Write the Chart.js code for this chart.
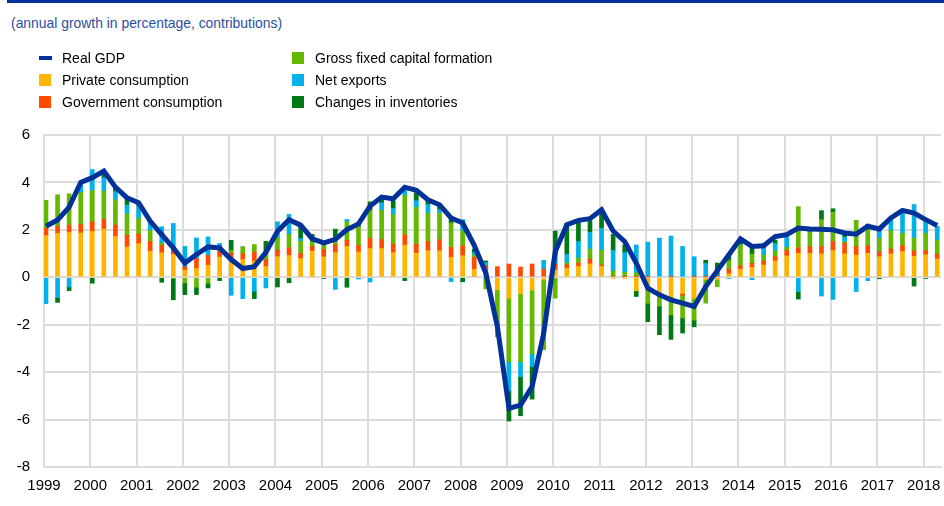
<!DOCTYPE html>
<html>
<head>
<meta charset="utf-8">
<script src="https://cdn.jsdelivr.net/npm/chart.js@4.4.1/dist/chart.umd.min.js"></script>
<style>
  html, body { margin: 0; padding: 0; background: #fff; }
  body { width: 944px; height: 506px; position: relative; overflow: hidden;
         font-family: Arial, "Liberation Sans", sans-serif; }
  .topline { position: absolute; left: 7px; right: 0; top: 0; height: 3px; background: #003299; }
  .title { position: absolute; left: 11px; top: 15px; font-size: 13.9px; color: #2a4ea2; white-space: nowrap; }
  .lg { position: absolute; height: 22px; line-height: 22px; font-size: 14px; color: #000; white-space: nowrap; z-index: 2; }
  .lg i { position: absolute; left: 0; top: 5px; width: 12px; height: 12px; }
  .lg i.ln { top: 9px; height: 4px; width: 13px; }
  .lg span { position: absolute; left: 23px; }
  #wrap { position: absolute; left: 0; top: 0; width: 944px; height: 506px; }
</style>
</head>
<body>
<div class="topline"></div>
<div class="title">(annual growth in percentage, contributions)</div>
<div id="legend"></div>
<div id="wrap"><canvas id="chart"></canvas></div>

<script>
// ── Data (contributions, percentage points) ─────────────
const firstYear = 1999;
const nQuarters = 78;            // 1999Q1 .. 2018Q2
const yearTicks = [1999, 2000, 2001, 2002, 2003, 2004, 2005, 2006, 2007, 2008,
                   2009, 2010, 2011, 2012, 2013, 2014, 2015, 2016, 2017, 2018];
const yTicks = [-8, -6, -4, -2, 0, 2, 4, 6];

const realGdp = [
   2.15,  2.42,  2.96,  4.00,   4.20,  4.48,  3.80,  3.35,
   3.14,  2.37,  1.80,  1.24,   0.60,  0.96,  1.28,  1.24,
   0.75,  0.37,  0.45,  1.05,   1.94,  2.43,  2.20,  1.62,
   1.45,  1.60,  2.01,  2.25,   3.00,  3.38,  3.31,  3.80,
   3.67,  3.27,  3.06,  2.50,   2.29,  1.35,  0.18, -2.08,
  -5.53, -5.39, -4.61, -2.36,   1.09,  2.22,  2.40,  2.47,
   2.85,  1.95,  1.51,  0.60,  -0.46, -0.74, -0.95, -1.09,
  -1.23, -0.39,  0.28,  0.95,   1.62,  1.30,  1.33,  1.72,
   1.80,  2.08,  2.04,  2.03,   2.00,  1.87,  1.82,  2.15,
   2.04,  2.50,  2.82,  2.71,   2.43,  2.18
];
const privateCons = [
   1.76,  1.85,  1.89,  1.87,   1.94,  2.03,  1.72,  1.28,
   1.42,  1.10,  1.03,  0.96,   0.30,  0.37,  0.51,  0.85,
   0.70,  0.75,  0.68,  0.45,   0.87,  0.92,  0.79,  1.10,
   0.86,  1.04,  1.30,  1.07,   1.21,  1.21,  1.04,  1.35,
   1.02,  1.12,  1.12,  0.84,   0.91,  0.34,  0.05, -0.53,
  -0.88, -0.70, -0.54, -0.12,   0.30,  0.38,  0.46,  0.57,
   0.46, -0.05, -0.05, -0.57,  -0.40, -0.75, -0.82, -0.68,
  -0.89, -0.10, -0.10,  0.15,   0.34,  0.42,  0.52,  0.69,
   0.90,  1.01,  1.01,  0.99,   1.13,  0.99,  0.94,  1.01,
   0.87,  0.99,  1.09,  0.88,   0.95,  0.77
];
const governmentCons = [
   0.30,  0.30,  0.31,  0.36,   0.40,  0.41,  0.48,  0.49,
   0.41,  0.42,  0.32,  0.21,   0.15,  0.42,  0.41,  0.22,
   0.33,  0.25,  0.38,  0.30,   0.28,  0.32,  0.22,  0.21,
   0.31,  0.34,  0.26,  0.28,   0.44,  0.38,  0.37,  0.45,
   0.38,  0.39,  0.46,  0.42,   0.42,  0.50,  0.43,  0.45,
   0.56,  0.43,  0.56,  0.34,   0.25,  0.14,  0.14,  0.20,
   0.05,  0.05,  0.03,  0.02,   0.02, -0.05,  0.02, -0.08,
   0.02,  0.02,  0.05,  0.20,   0.14,  0.17,  0.17,  0.18,
   0.23,  0.24,  0.28,  0.31,   0.38,  0.45,  0.35,  0.32,
   0.21,  0.21,  0.25,  0.24,   0.18,  0.21
];
const gfcf = [
   1.18,  1.33,  1.32,  1.35,   1.32,  1.19,  1.07,  0.91,
   0.65,  0.45,  0.10, -0.05,  -0.24, -0.42, -0.25,  0.05,
   0.10,  0.28,  0.32,  0.28,   0.51,  0.56,  0.51,  0.35,
   0.30,  0.30,  0.78,  0.80,   1.17,  1.23,  1.24,  1.65,
   1.55,  1.20,  1.13,  1.03,   0.63,  0.10, -0.49, -1.97,
  -2.68, -2.86, -2.68, -2.93,  -0.88,  0.10,  0.21,  0.42,
   0.63,  0.21,  0.18,  0.17,  -0.70, -0.42, -0.77, -0.96,
  -0.92, -0.99, -0.30,  0.35,   0.89,  0.39,  0.25,  0.25,
   0.13,  1.73,  0.63,  1.13,   1.24,  0.05,  1.10,  0.83,
   0.56,  0.77,  0.52,  0.54,   0.73,  0.59
];
const netExports = [
  -1.11, -0.85, -0.41,  0.35,   0.88,  0.57,  0.34,  0.37,
   0.56,  0.35,  0.68,  1.10,   0.85,  0.87,  0.78,  0.31,
  -0.76, -0.90, -0.59, -0.45,   0.68,  0.85,  0.11,  0.05,
   0.00, -0.51,  0.10, -0.07,  -0.20,  0.32,  0.25,  0.35,
   0.28,  0.35,  0.14, -0.18,   0.47,  0.10,  0.14,  0.00,
  -1.23, -0.63, -0.54,  0.37,   0.40,  0.35,  0.70,  0.70,
   0.92,  0.87,  0.83,  1.17,   1.46,  1.65,  1.72,  1.30,
   0.85,  0.56,  0.05, -0.05,   0.00, -0.10,  0.28,  0.30,
   0.44, -0.60,  0.00, -0.79,  -0.93,  0.20, -0.60, -0.14,
   0.35,  0.45,  0.85,  1.41,   0.49,  0.56
];
const inventories = [
   0.00, -0.21, -0.15,  0.05,  -0.25,  0.28,  0.24,  0.28,
   0.05,  0.05, -0.21, -0.90,  -0.49, -0.31, -0.20, -0.14,
   0.43,  0.00, -0.31,  0.49,  -0.41, -0.23,  0.52,  0.10,
  -0.05,  0.35, -0.42,  0.15,   0.36,  0.20,  0.31, -0.14,
   0.33,  0.15,  0.15,  0.28,  -0.19,  0.15,  0.07,  0.00,
  -1.27, -1.65, -1.38,  0.00,   1.00,  1.30,  0.85,  0.50,
   0.80,  0.68,  0.32, -0.24,  -0.77, -1.20, -1.03, -0.63,
  -0.28,  0.14,  0.50,  0.30,   0.14,  0.32,  0.20,  0.15,
   0.00, -0.32,  0.10,  0.38,   0.14,  0.10,  0.00,  0.08,
  -0.06,  0.00,  0.00, -0.37,  -0.05,  0.00
];

// quarter positions on a time axis (year + quarter fraction);
// bars sit just right of the year grid line, as in the original
const BAR_SHIFT = 0.043;
const quarterX = [];
for (let i = 0; i < nQuarters; i++) quarterX.push(firstYear + i / 4 + BAR_SHIFT);

const COLORS = {
  gdp:   '#003299',
  priv:  '#ffb400',
  gov:   '#ff4b00',
  gfcf:  '#65b800',
  netx:  '#00b1ea',
  inv:   '#007816',
  grid:  '#dcdcdc'
};

const series = [
  { label: 'Private consumption',           data: privateCons,    color: COLORS.priv },
  { label: 'Government consumption',        data: governmentCons, color: COLORS.gov  },
  { label: 'Gross fixed capital formation', data: gfcf,           color: COLORS.gfcf },
  { label: 'Net exports',                   data: netExports,     color: COLORS.netx },
  { label: 'Changes in inventories',        data: inventories,    color: COLORS.inv  }
];

// ── Legend (two columns, HTML) ──────────────────────────
const legendItems = [
  { text: 'Real GDP',                      color: COLORS.gdp,  line: true, col: 0, row: 0 },
  { text: 'Private consumption',           color: COLORS.priv, col: 0, row: 1 },
  { text: 'Government consumption',        color: COLORS.gov,  col: 0, row: 2 },
  { text: 'Gross fixed capital formation', color: COLORS.gfcf, col: 1, row: 0 },
  { text: 'Net exports',                   color: COLORS.netx, col: 1, row: 1 },
  { text: 'Changes in inventories',        color: COLORS.inv,  col: 1, row: 2 }
];
document.getElementById('legend').innerHTML = legendItems.map(it => `
  <div class="lg" style="left:${it.col ? 292 : 39}px; top:${47 + it.row * 22}px">
    <i class="${it.line ? 'ln' : ''}" style="background:${it.color}"></i><span>${it.text}</span>
  </div>`).join('');

// ── Chart ───────────────────────────────────────────────
const toPoints = arr => arr.map((v, i) => ({ x: quarterX[i], y: v }));

const datasets = series.map(s => ({
  type: 'bar',
  label: s.label,
  data: toPoints(s.data),
  backgroundColor: s.color,
  borderWidth: 0,
  barThickness: 4,
  stack: 'contrib',
  order: 2
}));
datasets.push({
  type: 'line',
  label: 'Real GDP',
  data: toPoints(realGdp),
  borderColor: COLORS.gdp,
  borderWidth: 5,
  pointRadius: 0,
  tension: 0,
  fill: false,
  stack: 'gdp',
  order: 1
});

const tickFont = { family: 'Arial, "Liberation Sans", sans-serif', size: 15 };

new Chart(document.getElementById('chart'), {
  data: { datasets },
  options: {
    responsive: true,
    maintainAspectRatio: false,
    animation: false,
    layout: { padding: { top: 135, left: 0, right: 3, bottom: 0 } },
    plugins: { legend: { display: false }, tooltip: { enabled: false } },
    scales: {
      x: {
        type: 'linear',
        stacked: true,
        offset: false,
        min: 1999,
        max: 2018.375,
        afterBuildTicks: axis => { axis.ticks = yearTicks.map(v => ({ value: v })); },
        afterFit: axis => { axis.height = 39; axis.paddingLeft = 0; axis.paddingRight = 0; },
        grid: { color: COLORS.grid, lineWidth: 2, drawTicks: false, offset: false },
        border: { color: COLORS.grid, width: 2 },
        ticks: { color: '#000', font: tickFont, padding: 10, maxRotation: 0,
                 autoSkip: false, callback: v => String(v) }
      },
      y: {
        stacked: true,
        min: -8,
        max: 6,
        afterBuildTicks: axis => { axis.ticks = yTicks.map(v => ({ value: v })); },
        afterFit: axis => { axis.width = 44; },
        grid: { color: COLORS.grid, lineWidth: 2, drawTicks: false },
        border: { color: COLORS.grid, width: 2 },
        ticks: { color: '#000', font: tickFont, padding: 14, callback: v => String(v) }
      }
    }
  }
});
</script>
</body>
</html>
